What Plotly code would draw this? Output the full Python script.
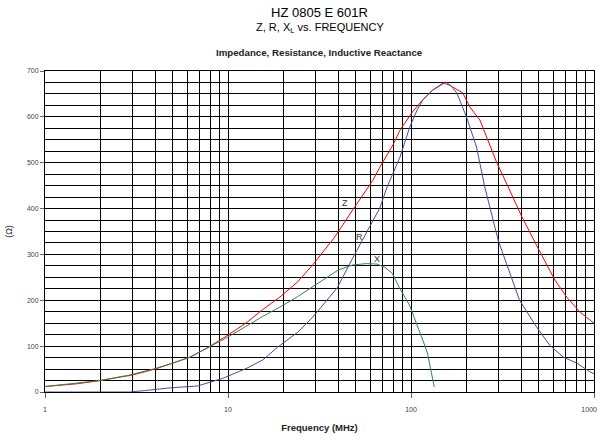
import plotly.graph_objects as go
import math

# Z (impedance)
z_freq = [1, 1.5, 2, 3, 4, 5, 6.2, 7.7, 10, 12.7, 15.5, 19.2, 24, 29, 38, 48, 62, 67.5, 80, 87,
          102, 116, 131, 155, 169, 192, 210, 238, 260, 295, 340, 400, 500, 612, 709, 840, 1000]
z_vals = [12, 18, 25, 37, 50, 63, 76, 96, 124, 152, 180, 207, 240, 277, 336, 397, 462, 490, 540, 571,
          611, 637, 658, 676, 665, 652, 621, 593, 556, 499, 447, 385, 310, 244, 207, 174, 150]

# R (resistance)
r_freq = [1, 2.9, 3.5, 4.8, 6.8, 9.4, 12.7, 15.5, 18.7, 24, 29, 39.5, 48, 58, 67.5, 74, 87, 98.5,
          108, 116, 131, 150, 165, 178, 201, 228, 253, 300, 356, 392, 485, 573, 680, 806, 950, 1000]
r_vals = [0, 0, 3, 9, 13, 30, 52, 70, 98, 130, 163, 227, 292, 353, 401, 447, 512, 578,
          615, 637, 658, 674, 668, 652, 600, 534, 447, 330, 244, 200, 142, 102, 76, 63, 44, 40]

# X (inductive reactance)
x_freq = [1, 2, 2.9, 3.9, 5, 6.2, 7.7, 10, 15.5, 19.2, 24, 29, 40, 48, 57, 65, 72, 79, 86, 98,
          102, 110, 116, 123, 130, 134]
x_vals = [12, 25, 37, 50, 63, 76, 96, 120, 165, 185, 208, 229, 266, 277, 280, 279, 272, 259, 229, 190,
          172, 140, 113, 85, 41, 11]

x_ticks = [1, 10, 100, 1000]
x_tick_text = ["1", "10", "100", "1000&nbsp;&nbsp;&nbsp;&nbsp;&nbsp;"]
y_ticks = [0, 100, 200, 300, 400, 500, 600, 700]
grid_x = [m * d for d in (1, 10, 100) for m in range(1, 10)] + [1000]

labels = [("Z", 43.6, 412), ("R", 52, 338), ("X", 65, 290)]

FONT = "Liberation Sans, Arial, sans-serif"

fig = go.Figure()
fig.add_trace(go.Scatter(x=z_freq, y=z_vals, mode="lines", line=dict(color="#ff0000", width=1), name="Z"))
fig.add_trace(go.Scatter(x=r_freq, y=r_vals, mode="lines", line=dict(color="#4a4aa0", width=1), name="R"))
fig.add_trace(go.Scatter(x=x_freq, y=x_vals, mode="lines", line=dict(color="#3a7f55", width=1), name="X"))
# invisible trace on overlay axis for vertical grid lines
fig.add_trace(go.Scatter(x=[1, 1000], y=[0, 0], mode="lines", line=dict(width=0), opacity=0,
                         xaxis="x2", hoverinfo="skip", showlegend=False))

for t, fx, fy in labels:
    fig.add_annotation(x=math.log10(fx), y=fy, text=t, showarrow=False,
                       font=dict(family=FONT, size=9, color="#333"))

fig.update_layout(
    width=600, height=440,
    margin=dict(l=45, r=6, t=71, b=48, autoexpand=False),
    paper_bgcolor="white", plot_bgcolor="white",
    showlegend=False,
    font=dict(family=FONT, color="#333"),
    xaxis=dict(type="log", range=[0, 3], tickvals=x_ticks, ticktext=x_tick_text,
               ticks="outside", ticklen=5, tickcolor="#666", showgrid=False, ticklabelstandoff=6,
               ticklabeloverflow="allow",
               showline=True, linecolor="#000", linewidth=1, mirror=True, automargin=False,
               tickfont=dict(size=7, color="#444", family=FONT),
               title=dict(text="<b>Frequency (MHz)</b>", font=dict(size=9.5, color="#222", family=FONT), standoff=11),
               zeroline=False),
    xaxis2=dict(type="log", range=[0, 3], overlaying="x", tickvals=grid_x, showticklabels=False,
                ticks="", showgrid=True, gridcolor="#000", gridwidth=1, showline=False, zeroline=False),
    yaxis=dict(range=[0, 700], tickvals=y_ticks, ticks="outside", ticklen=4, tickcolor="#666",
               showgrid=True, gridcolor="#000", gridwidth=1, automargin=False,
               minor=dict(dtick=25, showgrid=True, gridcolor="#000", gridwidth=1, ticks=""),
               showline=True, linecolor="#000", linewidth=1, mirror=True,
               tickfont=dict(size=7, color="#444", family=FONT),
               title=dict(text="(Ω)", font=dict(size=9, color="#222", family=FONT), standoff=12),
               zeroline=False),
)

fig.add_annotation(x=0.5, y=1, xref="paper", yref="paper", xanchor="center", yanchor="middle",
                   yshift=59, text="HZ 0805 E 601R", showarrow=False,
                   font=dict(family=FONT, size=13, color="#000"))
fig.add_annotation(x=0.5, y=1, xref="paper", yref="paper", xanchor="center", yanchor="middle",
                   yshift=43.5, text="Z, R, X<sub>L</sub> vs. FREQUENCY", showarrow=False,
                   font=dict(family=FONT, size=11, color="#000"))
fig.add_annotation(x=0.5, y=1, xref="paper", yref="paper", xanchor="center", yanchor="middle",
                   yshift=18.5, text="<b>Impedance, Resistance, Inductive Reactance</b>", showarrow=False,
                   font=dict(family=FONT, size=9.7, color="#222"))

fig.write_html("out.html", config={"displayModeBar": False},
               post_script="document.body.style.margin='0';")
